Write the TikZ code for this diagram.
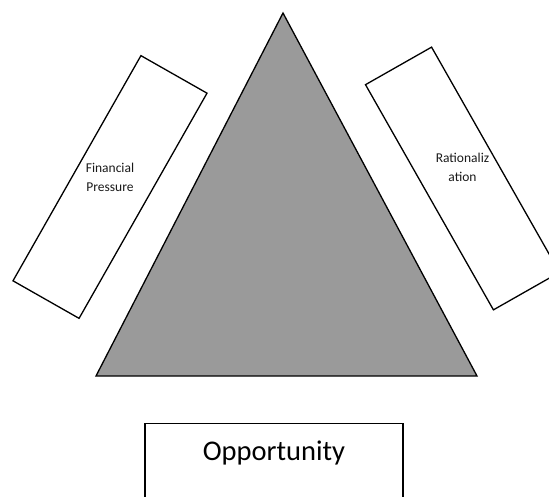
\documentclass[tikz,border=0pt]{standalone}
\usepackage{fontspec}
\setmainfont{Carlito}
\usepackage{tikz}
\definecolor{pyrgray}{HTML}{9A9A9A}

\begin{document}
\begin{tikzpicture}[x=1pt,y=-1pt,
    sidebox/.style={draw,line width=1.3pt,minimum width=76pt,minimum height=259pt,inner sep=0pt},
    sidetext/.style={align=center,font=\fontsize{13.5}{19}\selectfont,text=black!90}]
  \useasboundingbox (0,0) rectangle (549,497);
  % the triangle
  \coordinate (apex) at (283,13);
  \coordinate (bl) at (96,376);
  \coordinate (br) at (477,376);
  \draw[fill=pyrgray,line width=1.3pt,line join=miter] (apex) -- (br) -- (bl) -- cycle;
  % side boxes
  \node (lbox) [sidebox,rotate=-29.6] at (110,187) {};
  \node (ltext) [sidetext] at (lbox.center) [yshift=10pt] {Financial\\Pressure};
  \node (rbox) [sidebox,rotate=29.6] at (462.5,178.5) {};
  \node (rtext) [sidetext] at (rbox.center) [yshift=11pt] {Rationaliz\\ation};
  % bottom box
  \node (obox) [draw,line width=1.1pt,minimum width=258pt,minimum height=110pt,inner sep=0pt,anchor=north] at (274,423) {};
  \node (otext) [font=\fontsize{28.5}{32}\selectfont] at (274,453) {Opportunity};
\end{tikzpicture}
\end{document}
